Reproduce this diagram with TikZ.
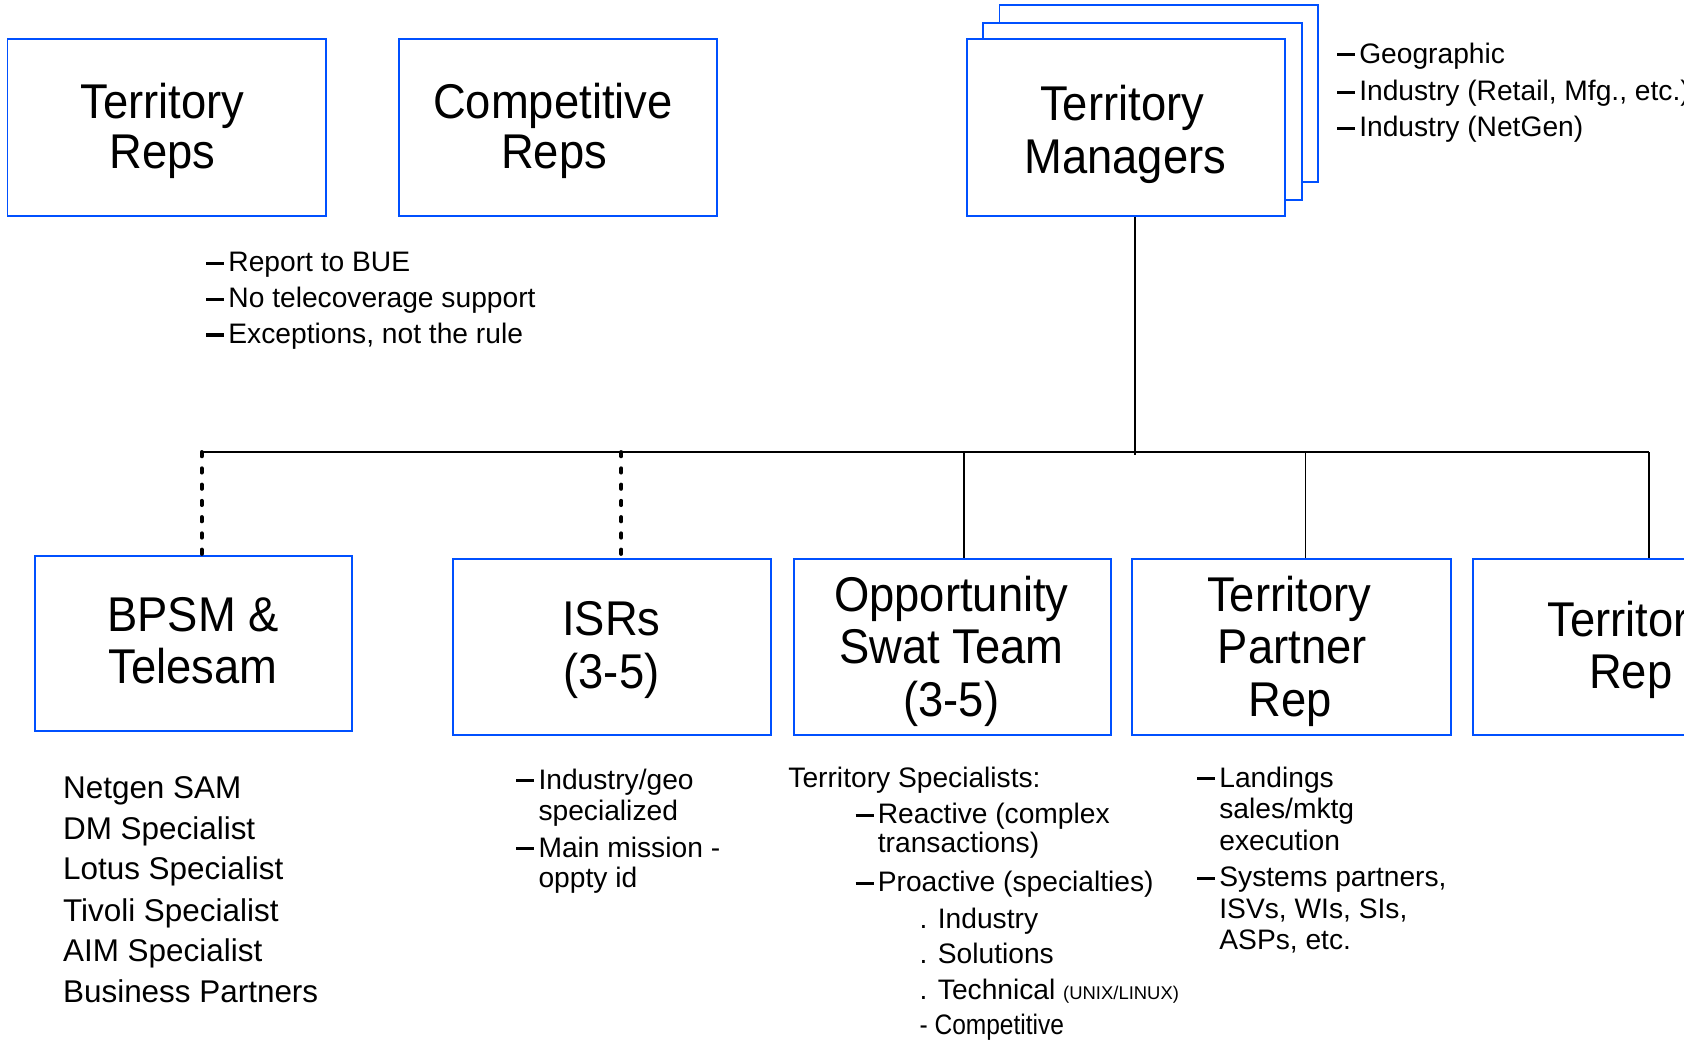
\documentclass[tikz,border=0pt]{standalone}
\usepackage{fontspec}
\setmainfont{Liberation Sans}
\newfontfamily\titlefont{Liberation Sans}[FakeStretch=0.93]
\newfontfamily\narrowfont{Liberation Sans}[FakeStretch=0.87]
\definecolor{boxblue}{RGB}{0,80,255}
% bold bar used as the list bullet, followed by its hanging gap
\newcommand\bul{\makebox[20.5pt][l]{\rule[6.3pt]{16.5pt}{2.8pt}}}
\tikzset{
  box/.style={draw=boxblue, line width=1.8pt, fill=white, inner sep=0pt, anchor=north west},
  title/.style={anchor=base, inner sep=0pt, font=\titlefont\fontsize{45}{48}\selectfont},
  txt/.style={anchor=base west, inner sep=0pt, font=\fontsize{26}{30}\selectfont},
  listtxt/.style={anchor=base west, inner sep=0pt, font=\fontsize{29}{34}\selectfont},
  busline/.style={line width=1.9pt},
  stem/.style={line width=1.4pt},
  dotline/.style={line width=3.8pt, line cap=round, dash pattern=on 3.8pt off 11.2pt},
}
\begin{document}
\begin{tikzpicture}[x=1pt,y=-1pt]
\useasboundingbox (0,0) rectangle (1568,966);
\clip (0,0) rectangle (1553,966);

% ---- top row ----
\node[box, minimum width=294pt, minimum height=163pt] (tr) at (6,35) {};
\node[title] (tr-a) at (150,109) {Territory};
\node[title] (tr-b) at (150,155.3) {Reps};

\node[box, minimum width=293pt, minimum height=163pt] (cr) at (367,35) {};
\node[title] (cr-a) at (510,109) {Competitive};
\node[title] (cr-b) at (511,155.3) {Reps};

% stacked manager boxes, back to front
\node[box, minimum width=294pt, minimum height=163pt] (tm-3) at (921,4) {};
\node[box, minimum width=294pt, minimum height=164pt] (tm-2) at (906,20) {};
\node[box, minimum width=293pt, minimum height=163pt] (tm) at (891,35) {};
\node[title] (tm-a) at (1035,111.3) {Territory};
\node[title] (tm-b) at (1038,159.9) {Managers};

% manager notes
\node[txt] (g1) at (1233,58.4) {\bul Geographic};
\node[txt] (g2) at (1233,92.9) {\bul Industry (Retail, Mfg., etc.)};
\node[txt] (g3) at (1233,126) {\bul Industry (NetGen)};

% rep notes
\node[txt] (r1) at (190,250.6) {\bul Report to BUE};
\node[txt] (r2) at (190,283.5) {\bul No telecoverage support};
\node[txt] (r3) at (190,316.7) {\bul Exceptions, not the rule};

% ---- connectors ----
\coordinate (bus-w) at (186,417);
\coordinate (bus-e) at (1521,417);
\coordinate (tap) at (1047,417);
\coordinate (tap-end) at (1047,419.5);
\coordinate (j-isr) at (573,417);
\coordinate (j-ost) at (889,417);
\coordinate (j-tpr) at (1204,417);

\draw[stem] (tm.south -| tap) -- (tap-end);
\draw[busline] (bus-w) -- (bus-e);

% ---- bottom row ----
\node[box, minimum width=293pt, minimum height=161pt] (bp) at (31,512) {};
\node[title] (bp-a) at (178,582.6) {BPSM \&};
\node[title] (bp-b) at (178,630.3) {Telesam};

\node[box, minimum width=293pt, minimum height=162pt] (isr) at (417,515) {};
\node[title] (isr-a) at (564,585.7) {ISRs};
\node[title] (isr-b) at (564,634.9) {(3-5)};

\node[box, minimum width=293pt, minimum height=162pt] (ost) at (731,515) {};
\node[title] (ost-a) at (877.5,564.1) {Opportunity};
\node[title] (ost-b) at (877.5,611.8) {Swat Team};
\node[title] (ost-c) at (877.5,661) {(3-5)};

\node[box, minimum width=294pt, minimum height=162pt] (tpr) at (1043,515) {};
\node[title] (tpr-a) at (1189,564.1) {Territory};
\node[title] (tpr-b) at (1192,611.8) {Partner};
\node[title] (tpr-c) at (1190,661) {Rep};

\node[box, minimum width=294pt, minimum height=162pt] (trp) at (1358,515) {};
\node[title] (trp-a) at (1503,587.2) {Territory};
\node[title] (trp-b) at (1504,634.9) {Rep};

\draw[dotline] (bus-w) -- (bp.north -| bus-w);
\draw[dotline] (j-isr) -- (isr.north -| j-isr);
\draw[stem] (j-ost) -- (ost.north -| j-ost);
\draw[stem] (j-tpr) -- (tpr.north -| j-tpr);
\draw[stem] (bus-e) -- (trp.north -| bus-e);

% ---- notes under the bottom row ----
\node[listtxt] (l1) at (58,736.3) {Netgen SAM};
\node[listtxt] (l2) at (58,774.2) {DM Specialist};
\node[listtxt] (l3) at (58,811) {Lotus Specialist};
\node[listtxt] (l4) at (58,850) {Tivoli Specialist};
\node[listtxt] (l5) at (58,887) {AIM Specialist};
\node[listtxt] (l6) at (58,924.5) {Business Partners};

\node[txt] (i1) at (476,728) {\bul Industry/geo};
\node[txt] (i2) at (496.5,757.2) {specialized};
\node[txt] (i3) at (476,790.7) {\bul Main mission -};
\node[txt] (i4) at (496.5,818.4) {oppty id};

\node[txt] (s0) at (727,726) {Territory Specialists:};
\node[txt] (s1) at (789,760) {\bul Reactive (complex};
\node[txt] (s2) at (809.5,786.5) {transactions)};
\node[txt] (s3) at (789,822.4) {\bul Proactive (specialties)};
\node[txt] (s4) at (848,856.3) {. Industry};
\node[txt] (s5) at (848,888.5) {. Solutions};
\node[txt] (s6) at (848,921.7) {. Technical {\fontsize{17}{20}\selectfont (UNIX/LINUX)}};
\node[txt, font=\narrowfont\fontsize{26}{30}\selectfont] (s7) at (848,954.6) {- Competitive};

\node[txt] (p1) at (1104,726) {\bul Landings};
\node[txt] (p2) at (1124.5,754.8) {sales/mktg};
\node[txt] (p3) at (1124.5,784.6) {execution};
\node[txt] (p4) at (1104,817.8) {\bul Systems partners,};
\node[txt] (p5) at (1124.5,847) {ISVs, WIs, SIs,};
\node[txt] (p6) at (1124.5,876.2) {ASPs, etc.};
\end{tikzpicture}
\end{document}
